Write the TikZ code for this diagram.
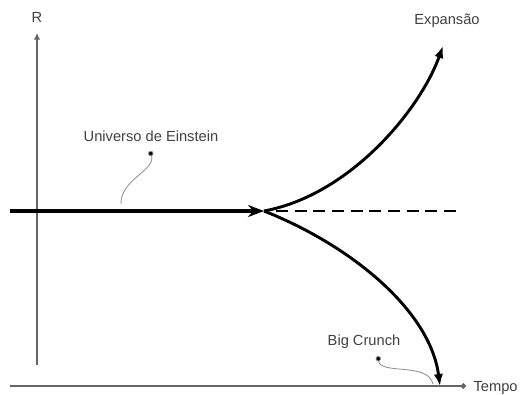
\documentclass[tikz,border=0pt]{standalone}
\usepackage{fontspec}
\setmainfont{Liberation Sans}
\usetikzlibrary{arrows.meta}
\tikzset{
  axisline/.style={draw=gray!80!black, line width=1.6pt},
  mainline/.style={line width=3pt, -{Stealth[length=12pt, width=9pt]}},
  branch/.style={line width=2.2pt, -{Latex[length=9pt, width=7pt]}},
  pointer/.style={draw=gray!90, line width=0.6pt, {Circle[length=4pt, fill=black]}-},
  lbl/.style={font=\fontsize{11}{13}\selectfont, text=black!75, inner sep=1pt},
}

\begin{document}
\begin{tikzpicture}[x=0.75pt, y=-0.75pt]
  \useasboundingbox (0,0) rectangle (523,394);

  % axes
  \coordinate (origin) at (37,365);
  \coordinate (rtop) at (37,33);
  \coordinate (tleft) at (10,386);
  \coordinate (tright) at (466,386);
  \draw[axisline, -{Latex[length=5pt, width=5pt]}] (origin) -- (rtop);
  \draw[axisline, -{Circle[length=4pt]}] (tleft) -- (tright);
  \node[lbl] (rlabel) at (37,17) {R};
  \node[lbl, anchor=west] (tlabel) at (472,388) {Tempo};

  % static universe and its two futures
  \coordinate (start) at (10,211);
  \coordinate (split) at (264,211);
  \coordinate (dashend) at (458,211);
  \coordinate (expand) at (443,46);
  \coordinate (crunch) at (440,386);
  \draw[mainline] (start) -- (split);
  \draw[line width=2.2pt, dash pattern=on 9pt off 5pt] (276,211) -- (dashend);
  \draw[branch] (split) .. controls (350,195) and (420,110) .. (expand);
  \draw[branch] (split) .. controls (350,245) and (430,310) .. (crunch);

  % labels
  \node[lbl] (expansao) at (447,21) {Expansão};
  \node[lbl] (einstein) at (151,136) {Universo de Einstein};
  \node[lbl] (bigcrunch) at (364,342) {Big Crunch};

  \coordinate (einsteinpin) at (150,151);
  \coordinate (einsteinend) at (121,204);
  \draw[pointer] (einsteinpin) .. controls (156,170) and (120,180) .. (einsteinend);
  \coordinate (crunchpin) at (378,356);
  \coordinate (crunchend) at (433,384);
  \draw[pointer] (crunchpin) .. controls (380,375) and (428,362) .. (crunchend);
\end{tikzpicture}
\end{document}
